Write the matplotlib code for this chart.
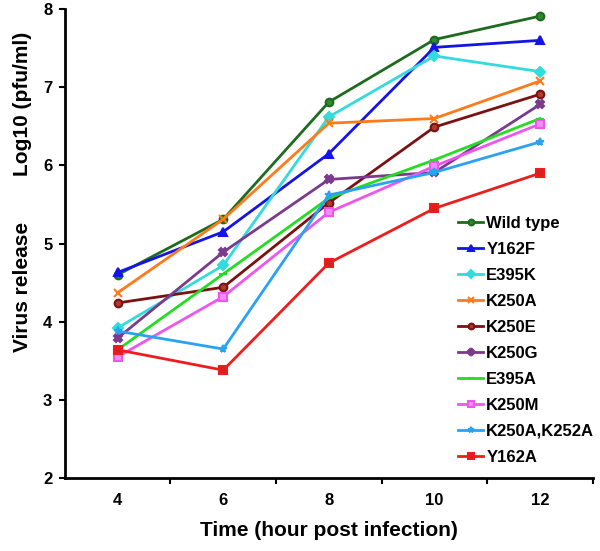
import matplotlib.pyplot as plt

plt.rcParams["font.family"] = ["Liberation Sans", "DejaVu Sans"]
plt.rcParams["font.weight"] = "bold"

# Data
hours = ["4", "6", "8", "10", "12"]

wild_type = [4.60, 5.31, 6.81, 7.61, 7.91]
y162f = [4.63, 5.15, 6.15, 7.51, 7.60]
e395k = [3.92, 4.72, 6.62, 7.40, 7.20]
k250a = [4.37, 5.31, 6.54, 6.60, 7.08]
k250e = [4.24, 4.44, 5.52, 6.49, 6.91]
k250g = [3.79, 4.89, 5.82, 5.91, 6.78]
e395a = [3.64, 4.61, 5.58, 6.07, 6.60]
k250m = [3.55, 4.32, 5.40, 5.99, 6.53]
k250a_k252a = [3.88, 3.65, 5.62, 5.91, 6.30]
y162a = [3.64, 3.38, 4.75, 5.45, 5.90]

series = [
    ("Wild type", wild_type, "#1d6b1d", "o", "#2f8a2f"),
    ("Y162F", y162f, "#1414e6", "^", "#1414e6"),
    ("E395K", e395k, "#33dcdc", "D", "#33dcdc"),
    ("K250A", k250a, "#ff7a1a", "x", "#ff7a1a"),
    ("K250E", k250e, "#7a1212", "o", "#b03a2a"),
    ("K250G", k250g, "#7b3b8c", "X", "#7b3b8c"),
    ("E395A", e395a, "#22dd22", "_", "#22dd22"),
    ("K250M", k250m, "#ee55ee", "s", "#f58cf5"),
    ("K250A,K252A", k250a_k252a, "#2aa2f2", "*", "#2aa2f2"),
    ("Y162A", y162a, "#ee1c1c", "s", "#d82020"),
]

fig = plt.figure(figsize=(6.0, 5.51), dpi=100)
ax = fig.add_axes([0.108, 0.1325, 0.88, 0.851])

x = list(range(len(hours)))
for name, vals, color, marker, face in series:
    ax.plot(x, vals, color=color, linewidth=2, marker=marker, markersize=5.5,
            markerfacecolor=face, markeredgecolor=color, markeredgewidth=1.5,
            label=name)

ax.set_xlim(-0.5, len(hours) - 0.5)
ax.set_ylim(2, 8)
ax.set_xticks(x)
ax.set_xticklabels(hours)
ax.set_xticks([i + 0.5 for i in x], minor=True)
ax.tick_params(axis="x", which="major", length=0, pad=11, labelsize=12)
ax.tick_params(axis="x", which="minor", length=4, width=1.5, direction="out")
ax.tick_params(axis="y", length=4, width=1.5, direction="out", labelsize=12, pad=5)

for side in ["top", "right"]:
    ax.spines[side].set_visible(False)
for side in ["left", "bottom"]:
    ax.spines[side].set_linewidth(2)

ax.set_xlabel("Time (hour post infection)", fontsize=15, fontweight="bold", labelpad=9)

# y label is two pieces with a wide gap between them
fig.text(23 / 600, 1 - 32 / 551, "Log10 (pfu/ml)", rotation=90, ha="center",
         va="top", fontsize=15, fontweight="bold")
fig.text(23 / 600, 1 - 352 / 551, "Virus release", rotation=90, ha="center",
         va="bottom", fontsize=15, fontweight="bold")

ax.legend(loc="upper left", bbox_to_anchor=(458 / 600, 1 - 216 / 551),
          bbox_transform=fig.transFigure, frameon=False, borderpad=0,
          borderaxespad=0, prop={"size": 12, "weight": "bold"},
          handlelength=1.5, handletextpad=0.2, labelspacing=0.66,
          markerscale=0.75)

fig.savefig("out.png", dpi=100)
